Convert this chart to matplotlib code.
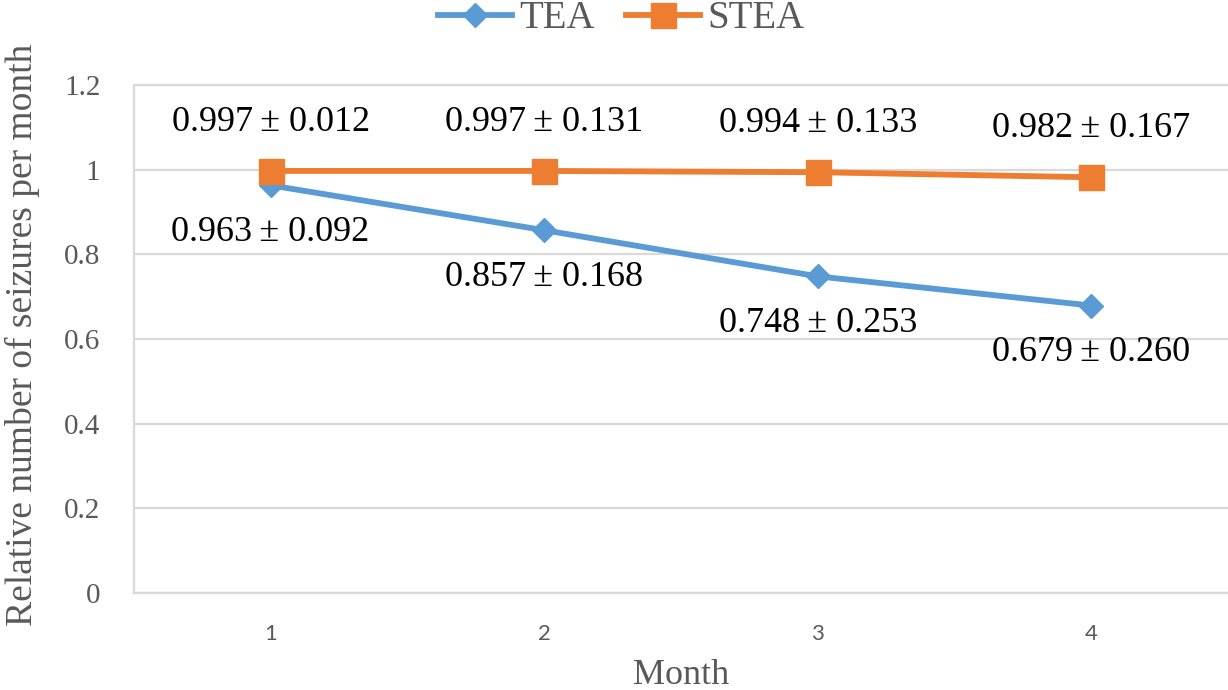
import matplotlib.pyplot as plt

plt.rcParams['font.family'] = ['Liberation Serif', 'DejaVu Serif']

months = ['1', '2', '3', '4']
tea = [0.963, 0.857, 0.748, 0.679]
tea_sd = [0.092, 0.168, 0.253, 0.260]
stea = [0.997, 0.997, 0.994, 0.982]
stea_sd = [0.012, 0.131, 0.133, 0.167]

blue = '#5B9BD5'
orange = '#ED7D31'
grey = '#595959'
grid = '#D9D9D9'

fig = plt.figure(figsize=(12.28, 6.9), dpi=100)
ax = fig.add_axes([0.109, 0.1406, 0.891, 0.7362])

x = list(range(len(months)))
ax.plot(x, tea, color=blue, lw=4.2, marker='D', ms=12.5, label='TEA', zorder=3)
ax.plot(x, stea, color=orange, lw=4.2, marker='s', ms=18, label='STEA', zorder=4)

# подписи значений
for i in x:
    ax.annotate(f'{stea[i]:.3f}\u2009± {stea_sd[i]:.3f}', (i, stea[i]), xytext=(0, 35),
                textcoords='offset points', ha='center', va='center', fontsize=26, color='black')
    ax.annotate(f'{tea[i]:.3f}\u2009± {tea_sd[i]:.3f}', (i, tea[i]), xytext=(0, -34),
                textcoords='offset points', ha='center', va='center', fontsize=26, color='black')

ax.set_xlim(-0.5, 3.5)
ax.set_ylim(0, 1.2)
ax.set_yticks([0, 0.2, 0.4, 0.6, 0.8, 1.0, 1.2])
ax.set_yticklabels(['0', '0.2', '0.4', '0.6', '0.8', '1', '1.2'])
ax.set_xticks(x)
ax.set_xticklabels(months, family=['Lato', 'DejaVu Sans'], fontsize=16)
ax.tick_params(axis='y', length=0, pad=24, labelsize=21, labelcolor=grey)
ax.tick_params(axis='x', length=0, pad=22, labelcolor=grey)
ax.yaxis.grid(True, color=grid, lw=1.6)
ax.set_axisbelow(True)
for side in ['left', 'bottom', 'top', 'right']:
    ax.spines[side].set_color(grid)
    ax.spines[side].set_linewidth(1.6)
ax.spines['right'].set_visible(False)

ax.set_xlabel('Month', fontsize=26, color=grey, labelpad=11)
fig.text(0.018, 0.514, 'Relative number of seizures per month', rotation=90,
         ha='center', va='center', fontsize=27, color=grey)

fig.legend(loc='upper center', bbox_to_anchor=(0.506, 1.05), ncol=2, frameon=False,
           fontsize=28, handlelength=1.9, columnspacing=0.8, handletextpad=0.2,
           labelcolor=grey)

plt.savefig('out.png', dpi=100)
